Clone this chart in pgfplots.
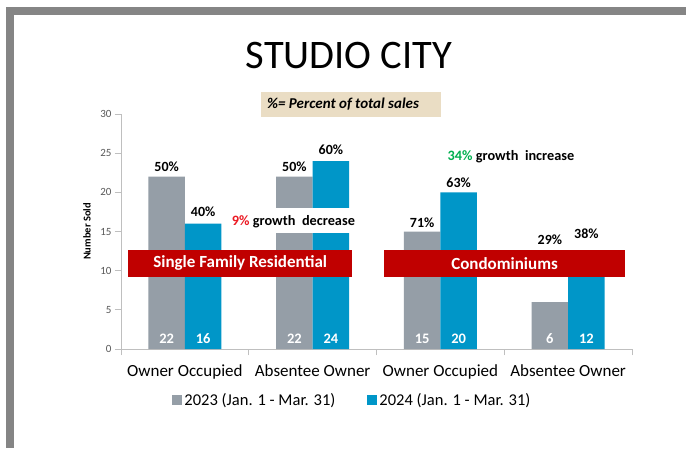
\documentclass[border=0pt]{standalone}
\usepackage{fontspec}
\setmainfont{Carlito}
\usepackage{pgfplots}
\pgfplotsset{compat=1.18}
\definecolor{barGray}{RGB}{149,158,167}
\definecolor{barBlue}{RGB}{0,150,200}
\definecolor{bandRed}{RGB}{192,0,0}
\definecolor{frameGray}{RGB}{133,133,133}
\definecolor{beige}{RGB}{234,221,196}
\definecolor{axisGray}{RGB}{191,191,191}
\definecolor{tickText}{RGB}{89,89,89}
\definecolor{growGreen}{RGB}{0,176,80}
\definecolor{dropRed}{RGB}{235,25,35}
\newcommand\fs[1]{\fontsize{#1}{#1}\selectfont}
\begin{document}
\begin{tikzpicture}[x=1pt,y=1pt]
\fill[white] (0,0) rectangle (686,448);
\fill[frameGray] (6,433) rectangle (686,441);
\fill[frameGray] (6,0) rectangle (14,441);
\node[anchor=base, inner sep=0] at (349,379) {\fs{40.5}STUDIO CITY};
\fill[beige] (261,331) rectangle (441,356);
\node[anchor=base west, inner sep=0] at (267,339) {\fs{15}\bfseries\itshape \%= Percent of total sales};
\begin{axis}[
  at={(121pt,99pt)}, anchor=south west, scale only axis,
  width=511pt, height=235pt,
  xmin=-0.5, xmax=3.5, ymin=0, ymax=30,
  ybar=0pt, bar width=36.5pt,
  axis lines*=left,
  axis line style={axisGray, line width=0.8pt},
  tick align=outside, major tick length=6pt,
  tick style={axisGray, line width=0.8pt},
  ytick={0,5,...,30},
  yticklabel style={font=\fs{11}, text=tickText},
  /pgf/number format/assume math mode=true,
  xtick={-0.5,0.5,1.5,2.5,3.5}, xticklabels={},
  extra x ticks={0,1,2,3},
  extra x tick labels={Owner Occupied, Absentee Owner, Owner Occupied, Absentee Owner},
  extra x tick style={major tick length=0pt, tick style={draw=none}},
  xticklabel style={font=\fs{17}, text=black, inner sep=0pt, yshift=-15pt},
  every axis y label/.style={at={(axis description cs:0,0.5)}, xshift=-34pt, rotate=90, anchor=center, font=\fs{10.5}\bfseries},
  ylabel={Number Sold},
  legend style={at={(axis description cs:0.453,-0.217)}, anchor=center, draw=none, fill=none,
    font=\fs{16.5}, legend columns=2,
    /tikz/every even column/.append style={column sep=30pt}},
  legend image code/.code={\fill[#1] (0pt,-5pt) rectangle (10pt,5pt);},
]
\addplot[fill=barGray, draw=none] coordinates {(0,22) (1,22) (2,15) (3,6)};
\addplot[fill=barBlue, draw=none] coordinates {(0,16) (1,24) (2,20) (3,12)};
\legend{2023 (Jan. 1 - Mar. 31), 2024 (Jan. 1 - Mar. 31)}
% white gap with growth note
\fill[white] (axis cs:0.353,14.8) rectangle (axis cs:1.347,18.0);
\node[font=\fs{14.3}\bfseries] at (axis cs:0.850,16.3) {\textcolor{dropRed}{9\%} growth\ \ decrease};
\node[font=\fs{14.3}\bfseries] at (axis cs:2.553,24.5) {\textcolor{growGreen}{34\%} growth\ \ increase};
% bands
\fill[bandRed] (axis cs:-0.445,9.2) rectangle (axis cs:1.309,12.65);
\node[font=\fs{17}\bfseries, text=white] at (axis cs:0.433,10.93) {Single Family Residential};
\fill[bandRed] (axis cs:1.559,9.2) rectangle (axis cs:3.446,12.65);
\node[font=\fs{17}\bfseries, text=white] at (axis cs:2.5025,10.93) {Condominiums};
% percent labels
\begin{scope}[every node/.style={font=\fs{14}\bfseries}]
\node at (axis cs:-0.143,23.3) {50\%};
\node at (axis cs:0.143,17.5) {40\%};
\node at (axis cs:0.857,23.3) {50\%};
\node at (axis cs:1.143,25.4) {60\%};
\node at (axis cs:1.857,16.1) {71\%};
\node at (axis cs:2.143,21.2) {63\%};
\node at (axis cs:2.857,14.0) {29\%};
\node at (axis cs:3.143,14.7) {38\%};
\end{scope}
% value labels
\begin{scope}[every node/.style={font=\fs{14.5}\bfseries, text=white}]
\node at (axis cs:-0.143,1.3) {22};
\node at (axis cs:0.143,1.3) {16};
\node at (axis cs:0.857,1.3) {22};
\node at (axis cs:1.143,1.3) {24};
\node at (axis cs:1.857,1.3) {15};
\node at (axis cs:2.143,1.3) {20};
\node at (axis cs:2.857,1.3) {6};
\node at (axis cs:3.143,1.3) {12};
\end{scope}
\end{axis}
\end{tikzpicture}
\end{document}
